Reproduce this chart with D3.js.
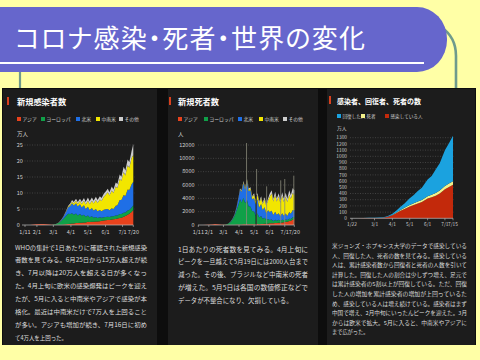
<!DOCTYPE html>
<html><head><meta charset="utf-8">
<script src="https://cdn.jsdelivr.net/npm/d3@7"></script>
<style>html,body{margin:0;padding:0;background:#ffffa6;}svg{display:block;}</style>
</head><body>
<svg id="c" width="480" height="360"></svg>
<script>
// ---------------- DATA ----------------
const titleText = "コロナ感染・死者・世界の変化";

// Chart 1: daily new cases (万人)
const casesTitle = "新規感染者数";
const casesUnit = "万人";
const regionNames = ["アジア","ヨーロッパ","北米","中南米","その他"];
const casesDates = ["1/11","1/20","1/30","2/8","2/13","2/18","2/27","3/5","3/10","3/15","3/19","3/23","3/27","3/31","4/3","4/6","4/10","4/13","4/17","4/20","4/24","4/27","5/1","5/4","5/8","5/11","5/15","5/18","5/22","5/25","5/29","6/1","6/5","6/8","6/12","6/15","6/19","6/22","6/26","6/29","7/3","7/6","7/10","7/13","7/17","7/20"];
const casesAsia   = [0,0.01,0.2,0.3,0.35,0.2,0.05,0.1,0.1,0.1,0.15,0.2,0.3,0.4,0.5,0.5,0.6,0.6,0.7,0.7,0.8,0.8,1.0,0.9,1.0,1.0,1.1,1.1,1.2,1.3,1.4,1.5,1.6,1.6,1.7,1.8,1.9,2.0,2.2,2.3,2.6,2.8,3.2,3.5,4.1,4.7];
const casesEurope = [0,0,0,0,0,0,0.05,0.2,0.5,1.2,1.8,2.5,3.2,3.0,3.2,2.7,3.0,2.4,2.7,2.2,2.4,1.8,2.0,1.5,1.7,1.3,1.4,1.1,1.2,1.0,1.0,1.0,1.0,0.9,1.0,0.9,1.1,1.0,1.2,1.1,1.2,1.1,1.3,1.2,1.4,1.5];
const casesNA     = [0,0,0,0,0,0,0,0.02,0.05,0.2,0.6,1.2,2.0,2.6,3.1,2.9,3.2,2.8,3.1,2.6,3.0,2.4,2.7,2.3,2.6,2.2,2.5,2.1,2.3,2.0,2.4,2.4,2.4,2.1,2.5,2.3,3.0,3.2,4.4,4.4,5.6,5.2,6.6,6.2,7.2,7.3];
const casesLatAm  = [0,0,0,0,0,0,0,0,0,0.02,0.05,0.1,0.2,0.4,0.5,0.6,0.8,0.8,1.0,1.1,1.4,1.4,1.9,1.8,2.3,2.2,2.8,2.6,3.3,3.2,4.0,4.5,5.2,4.6,5.6,5.0,6.0,5.4,6.6,6.0,7.2,6.4,7.6,7.0,8.2,8.4];
const casesOther  = [0,0,0,0,0,0,0.01,0.03,0.05,0.1,0.1,0.2,0.2,0.4,0.5,0.5,0.6,0.6,0.7,0.7,0.8,0.8,1.0,0.9,1.0,0.9,1.0,0.9,1.0,0.9,1.0,1.0,1.1,1.0,1.2,1.1,1.3,1.2,1.4,1.3,1.6,1.5,1.8,1.7,2.2,3.4];
const casesXTicks = ["1/11","2/1","3/1","4/1","5/1","6/1","7/1","7/20"];
const casesYTicks = [0,5,10,15,20,25];

// Chart 2: daily new deaths (人)
const deathsTitle = "新規死者数";
const deathsUnit = "人";
const deathsDates = casesDates.slice();
const deathsAsia   = [0,0,40,80,150,100,40,40,30,30,40,50,60,70,80,90,100,100,110,110,120,110,130,120,140,130,150,150,170,170,200,250,270,260,300,290,330,330,380,400,480,500,600,650,800,950];
const deathsEurope = [0,0,0,0,0,0,10,40,150,400,800,1300,2100,3000,3800,3300,4000,3200,3600,2700,2600,2000,1900,1300,1600,1000,1200,800,900,600,700,500,550,350,500,350,450,300,400,300,350,250,350,250,350,250];
const deathsNA     = [0,0,0,0,0,0,0,5,10,20,50,150,400,900,1400,1600,2200,2000,2800,2300,2500,1800,2000,1700,2100,1500,1800,1300,1600,1000,1300,1200,1300,900,1200,900,1000,700,1000,700,900,600,1000,800,1100,1000];
const deathsLatAm  = [0,0,0,0,0,0,0,0,0,5,10,20,40,60,80,100,150,150,200,200,250,250,500,450,700,650,900,850,1200,1100,1500,2300,2600,2000,2500,2000,2500,2000,2600,2100,2500,2100,2600,2200,2600,2300];
const deathsOther  = [0,0,0,0,0,0,0,0,5,20,40,60,80,100,120,130,150,150,170,170,180,170,250,200,250,220,280,250,300,270,330,450,500,400,500,400,500,400,550,450,600,500,650,550,700,700];
const deathsSpikeDates  = ["4/16","5/6","5/26","6/23","7/1","7/19"];
const deathsSpikeValues = [12300,8400,5800,6700,6900,7400];
const deathsGapDates = ["5/5"];
const deathsXTicks = ["1/11","2/1","3/1","4/1","5/1","6/1","7/1","7/20"];
const deathsYTicks = [0,2000,4000,6000,8000,10000,12000];

// Chart 3: active / deaths / recovered (万人, cumulative)
const worldTitle = "感染者、回復者、死者の数";
const worldUnit = "万人";
const worldNames = ["回復した人","死者","感染している人"];
const worldDates     = ["1/22","2/1","2/10","2/20","3/1","3/10","3/15","3/20","3/25","4/1","4/8","4/15","4/22","5/1","5/8","5/15","5/22","6/1","6/8","6/15","6/22","7/1","7/8","7/15"];
const worldActive    = [0.05,1.1,3.6,5.5,4.2,4.8,8.0,15,28,50,85,120,150,190,215,240,262,320,340,365,400,470,505,540];
const worldDeaths    = [0,0.03,0.1,0.22,0.3,0.42,0.65,1.1,2.0,4.7,8.8,13.4,18.3,24,27.7,30.8,33.9,37.5,41,43.8,47,51.5,55,58];
const worldRecovered = [0,0.03,0.3,1.7,4.3,6.0,7.6,8.5,10.0,19.3,32,51,70,108,135,168,195,270,300,380,440,575,650,735];
const worldXTicks = ["1/22","3/1","4/1","5/1","6/1","7/1","7/15"];
const worldYTicks = d3.range(0,1301,100);

// Texts
const casesText = ["WHOの集計で1日あたりに確認された新規感染","者数を見てみる。6月25日から15万人超えが続","き、7月以降は20万人を超える日が多くなっ","た。4月上旬に欧米の感染爆発はピークを迎え","たが、5月に入ると中南米やアジアで感染が本","格化。最近は中南米だけで7万人を上回ること","が多い。アジアも増加が続き、7月16日に初め","て4万人を上回った。"];
const deathsText = ["1日あたりの死者数を見てみる。4月上旬に","ピークを一旦越えて5月19日には2000人台まで","減った。その後、ブラジルなど中南米の死者","が増えた。5月5日は各国の数値修正などで","データが不整合になり、欠損している。"];
const worldText = ["米ジョンズ・ホプキンス大学のデータで感染している","人、回復した人、死者の数を見てみる。感染している","人は、累計感染者数から回復者と死者の人数を引いて","計算した。回復した人の割合は少しずつ増え、足元で","は累計感染者の5割以上が回復している。ただ、回復","した人の増加を累計感染者の増加が上回っているた","め、感染している人は増え続けている。感染者はまず","中国で増え、2月中旬にいったんピークを迎えた。3月","からは欧米で拡大。5月に入ると、中南米やアジアに","まで広がった。"];

// ---------------- DRAW ----------------
const FONT = "'Noto Sans CJK JP','Noto Sans',sans-serif";
const parse = d3.timeParse("%Y/%m/%d");
const pd = s => parse("2020/" + s);
const svg = d3.select("#c");

svg.append("rect").attr("width",480).attr("height",360).attr("fill","#ffffa6");

// connectors
svg.append("path").attr("d","M441,27 Q456,37 456,56 V90").attr("fill","none").attr("stroke","#6f9a8c").attr("stroke-width",2.6);
svg.append("line").attr("x1",20).attr("x2",20).attr("y1",70).attr("y2",90).attr("stroke","#6f9a8c").attr("stroke-width",2.2);

// title bar
svg.append("path").attr("d","M0,7 H417 A30,32 0 0 1 447,39 V40 A30,32 0 0 1 417,72 H0 Z").attr("fill","#6666cc");
svg.append("rect").attr("x",0).attr("y",62).attr("width",424).attr("height",2).attr("fill","#ffffff");
svg.append("text").attr("x",15).attr("y",48).attr("fill","#fff").attr("font-family",FONT)
  .style("font-feature-settings","'palt'")
  .attr("font-size",26).attr("textLength",350).attr("lengthAdjust","spacing").text(titleText);

// dark container and panels
svg.append("rect").attr("x",2).attr("y",88).attr("width",474).attr("height",257).attr("fill","#0d0d0d");
[[3,157],[168,318],[327,475]].forEach(([a,b])=>{
  svg.append("rect").attr("x",a).attr("y",89).attr("width",b-a).attr("height",256).attr("fill","#1c1c1c");
});

function panelHeader(x, markX, title, y, fs){
  svg.append("rect").attr("x",markX).attr("y",y-5).attr("width",2).attr("height",8).attr("fill","#d8401e");
  svg.append("text").attr("x",x).attr("y",y+3).attr("fill","#fff").attr("font-family",FONT)
    .attr("font-weight",700).attr("font-size",fs).text(title);
}

function legend(items, y, fs){
  items.forEach(it=>{
    svg.append("rect").attr("x",it.x).attr("y",y-2).attr("width",4).attr("height",4).attr("fill",it.color);
    svg.append("text").attr("x",it.x+5.5).attr("y",y+1.8).attr("fill","#cfcfcf").attr("font-family",FONT)
      .attr("font-size",fs).text(it.name);
  });
}

function stackedChart(cfg){
  const x = d3.scaleTime().domain([pd(cfg.xTicks[0]), pd(cfg.xTicks[cfg.xTicks.length-1])]).range(cfg.xRange);
  const y = d3.scaleLinear().domain([0, cfg.yTicks[cfg.yTicks.length-1]]).range(cfg.yRange);
  const g = svg.append("g");
  cfg.yTicks.forEach(t=>{
    if(t>0) g.append("line").attr("x1",cfg.gridX[0]).attr("x2",cfg.gridX[1]).attr("y1",y(t)).attr("y2",y(t))
      .attr("stroke","#5a5a5a").attr("stroke-width",0.6).attr("stroke-dasharray","1,1.5");
    g.append("text").attr("x",cfg.yLabelX).attr("y",y(t)+1.6).attr("text-anchor",cfg.yAnchor)
      .attr("fill","#cfcfcf").attr("font-family",FONT).attr("font-size",cfg.tickFs).text(t);
  });
  const rows = cfg.dates.map((d,i)=>{
    const r = {date: pd(d)};
    cfg.series.forEach((s,k)=> r["s"+k] = s.values[i]);
    return r;
  });
  const keys = cfg.series.map((s,k)=>"s"+k);
  const stacked = d3.stack().keys(keys)(rows);
  const area = d3.area().x(d=>x(d.data.date)).y0(d=>y(d[0])).y1(d=>y(d[1])).curve(d3.curveLinear);
  stacked.forEach((layer,k)=>{
    g.append("path").datum(layer).attr("d",area).attr("fill",cfg.series[k].color);
  });
  if(cfg.spikes){
    cfg.spikes.dates.forEach((d,i)=>{
      g.append("line").attr("x1",x(pd(d))).attr("x2",x(pd(d))).attr("y1",y(0)).attr("y2",y(cfg.spikes.values[i]))
        .attr("stroke","#8a8a7a").attr("stroke-width",0.8);
    });
  }
  if(cfg.gaps){
    cfg.gaps.forEach(d=>{
      g.append("line").attr("x1",x(pd(d))).attr("x2",x(pd(d))).attr("y1",y(0)).attr("y2",y(cfg.gapTop))
        .attr("stroke","#111").attr("stroke-width",1);
    });
  }
  g.append("line").attr("x1",cfg.gridX[0]).attr("x2",cfg.xRange[1]).attr("y1",y(0)).attr("y2",y(0))
    .attr("stroke","#bdbdbd").attr("stroke-width",0.7);
  cfg.xTicks.forEach(t=>{
    const xx = x(pd(t));
    g.append("line").attr("x1",xx).attr("x2",xx).attr("y1",y(0)).attr("y2",y(0)+2)
      .attr("stroke","#bdbdbd").attr("stroke-width",0.6);
    g.append("text").attr("x",xx).attr("y",cfg.xLabelY).attr("text-anchor","middle")
      .attr("fill","#cfcfcf").attr("font-family",FONT).attr("font-size",cfg.tickFs).text(t);
  });
  svg.append("text").attr("x",cfg.unitX).attr("y",cfg.unitY).attr("fill","#cfcfcf")
    .attr("font-family",FONT).attr("font-size",cfg.tickFs).text(cfg.unit);
}

function paragraph(lines, x, y0, dy, fs, widths){
  lines.forEach((l,i)=>{
    const t = svg.append("text").attr("x",x).attr("y",y0+dy*i).attr("fill","#dedede")
      .attr("font-family",FONT).attr("font-size",fs).text(l);
    if(widths[i]) t.attr("textLength",widths[i]).attr("lengthAdjust","spacingAndGlyphs");
  });
}

const regionColors = ["#e8421c","#0fa048","#1f6fe6","#f2e600","#cdcdcd"];

// Chart 1
panelHeader(17, 7, casesTitle, 102, 8.2);
legend(regionNames.map((n,i)=>({name:n,color:regionColors[i],x:[17,41,76,96,119][i]})), 119, 4.8);
stackedChart({
  dates: casesDates,
  series: [casesAsia,casesEurope,casesNA,casesLatAm,casesOther].map((v,i)=>({values:v,color:regionColors[i]})),
  xTicks: casesXTicks, yTicks: casesYTicks,
  xRange:[25,133.3], yRange:[225,145], gridX:[22,135],
  yLabelX:16.7, yAnchor:"start", tickFs:5.5, xLabelY:233.5, unit:casesUnit, unitX:17, unitY:136
});

// Chart 2
panelHeader(178, 169, deathsTitle, 102, 8.2);
legend(regionNames.map((n,i)=>({name:n,color:regionColors[i],x:[178,204,238,259,283][i]})), 119, 4.8);
stackedChart({
  dates: deathsDates,
  series: [deathsAsia,deathsEurope,deathsNA,deathsLatAm,deathsOther].map((v,i)=>({values:v,color:regionColors[i]})),
  xTicks: deathsXTicks, yTicks: deathsYTicks,
  xRange:[198.3,294.3], yRange:[225,145], gridX:[198,295],
  yLabelX:194.5, yAnchor:"end", tickFs:5.5, xLabelY:234, unit:deathsUnit, unitX:178, unitY:136,
  spikes:{dates:deathsSpikeDates, values:deathsSpikeValues}, gaps:deathsGapDates, gapTop:4500
});

// Chart 3
const worldColors = ["#1ba2df","#f2f08a","#c3290b"];
panelHeader(337, 329, worldTitle, 101, 7);
legend(worldNames.map((n,i)=>({name:n,color:worldColors[i],x:[337,361,385][i]})), 116, 4.6);
stackedChart({
  dates: worldDates,
  series: [{values:worldActive,color:worldColors[2]},{values:worldDeaths,color:worldColors[1]},{values:worldRecovered,color:worldColors[0]}],
  xTicks: worldXTicks, yTicks: worldYTicks,
  xRange:[352,453], yRange:[218.3,137.7], gridX:[350,455],
  yLabelX:347, yAnchor:"end", tickFs:4.8, xLabelY:226, unit:worldUnit, unitX:337, unitY:130
});

// Paragraphs
paragraph(casesText, 15, 249.5, 12.9, 6.2, [132,132,132,132,132,132,132,52]);
paragraph(deathsText, 178, 251.5, 12.8, 6.4, [130,130,130,130,0]);
paragraph(worldText, 332, 248, 9.6, 5.2, [135,135,135,135,135,135,135,135,135,0]);
</script>
</body></html>
